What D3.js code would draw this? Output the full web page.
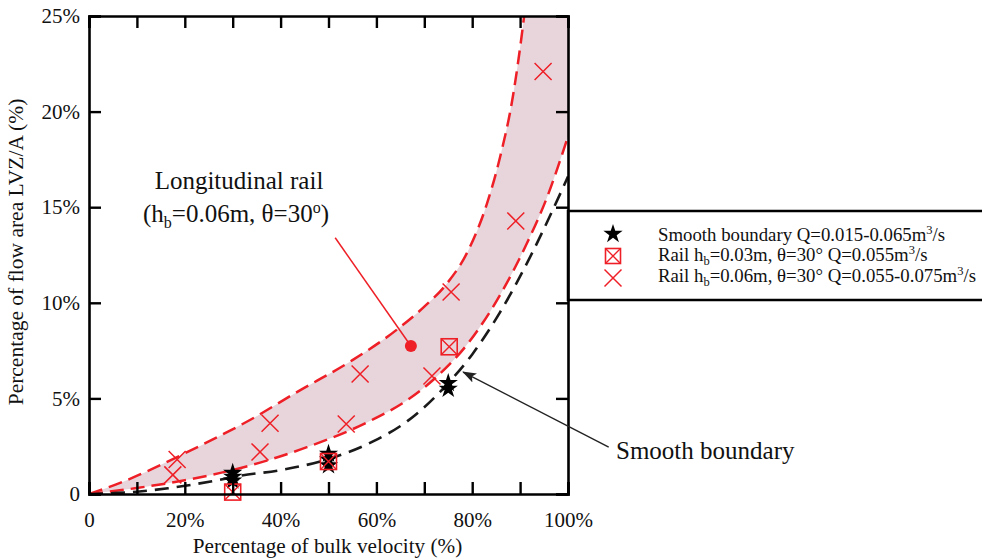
<!DOCTYPE html>
<html>
<head>
<meta charset="utf-8">
<script src="https://cdn.jsdelivr.net/npm/d3@7/dist/d3.min.js"></script>
<style>
  html, body { margin: 0; padding: 0; background: #fff; }
  svg text { font-family: "Liberation Serif", "Times New Roman", serif; fill: #111; }
</style>
</head>
<body>
<svg id="chart" width="982" height="558"></svg>
<script>
// ---------- DATA ----------
const xTicksMinor = [0,10,20,30,40,50,60,70,80,90,100];
const xTickLabels = [0,20,40,60,80,100];
const yTicks = [0,5,10,15,20,25];

// Smooth boundary (stars): [velocity %, area %]
const smoothX = [30, 30, 30, 50, 50, 50, 75, 75];
const smoothY = [0.7, 0.9, 1.1, 1.5, 1.8, 2.1, 5.5, 5.8];

// Rail hb=0.03m (boxed X)
const rail03X = [30, 50, 75.2];
const rail03Y = [0.1, 1.7, 7.7];

// Rail hb=0.06m (X)
const rail06X = [17.5, 18.4, 35.7, 37.8, 53.7, 56.6, 71.6, 75.6, 89.1, 94.8];
const rail06Y = [1.0, 1.8, 2.2, 3.7, 3.66, 6.28, 6.17, 10.56, 14.28, 22.1];

// Fitted curves
const blackCurveX = [0, 10, 16.5, 27, 31.5, 40, 48.9, 59.3, 66.4, 75, 80, 85.8, 92.7, 96.9, 100];
const blackCurveY = [0, 0.12, 0.3, 0.73, 0.95, 1.25, 1.75, 2.75, 3.8, 5.8, 7.3, 9.5, 12.7, 14.9, 16.6];

const lowerRedX = [0, 9.6, 20, 31.5, 45.5, 59.3, 66.4, 72, 79.5, 85.8, 91.4, 95.6, 100];
const lowerRedY = [0, 0.3, 0.72, 1.35, 2.45, 3.9, 4.9, 6.0, 8.0, 10.4, 13.1, 15.5, 18.7];

const upperRedX = [0, 6.5, 13.1, 20, 27, 33.6, 43.2, 55, 64.3, 70, 74.7, 79.1, 83.1, 85.8, 88.5, 90.6, 92, 96, 100];
const upperRedY = [0, 0.58, 1.3, 2.13, 3.0, 3.87, 5.3, 7.0, 8.6, 9.8, 11.0, 12.7, 15.2, 17.6, 20.8, 24.5, 27.5, 38, 55];

// Annotations (data units)
const railNoteDot = [67.2, 7.74];
const railNoteLineStart = [51.4, 13.4];
const smoothArrowTip = [78.1, 6.38];
const smoothArrowStart = [108.5, 2.45];

const legendLabels = [
  [{t:"Smooth boundary Q=0.015-0.065m"},{t:"3",sup:true},{t:"/s"}],
  [{t:"Rail h"},{t:"b",sub:true},{t:"=0.03m, θ=30° Q=0.055m"},{t:"3",sup:true},{t:"/s"}],
  [{t:"Rail h"},{t:"b",sub:true},{t:"=0.06m, θ=30° Q=0.055-0.075m"},{t:"3",sup:true},{t:"/s"}]
];

// ---------- CHART ----------
const RED = "#ee1f26";
const FILL = "#e8d5dc";
const svg = d3.select("#chart");
const L = 89, R = 568, T = 16, B = 494;
const x = d3.scaleLinear().domain([0,100]).range([L,R]);
const y = d3.scaleLinear().domain([0,25]).range([B,T]);

svg.append("defs").append("clipPath").attr("id","plotclip")
  .append("rect").attr("x",L).attr("y",T).attr("width",R-L).attr("height",B-T);

const zip = (xs, ys) => xs.map((v,i)=>[v, ys[i]]);
const line = d3.line().x(d=>x(d[0])).y(d=>y(d[1])).curve(d3.curveMonotoneX);
const area = d3.area().x(d=>x(d[0])).y0(y(0)).y1(d=>y(d[1])).curve(d3.curveMonotoneX);

const plot = svg.append("g").attr("clip-path","url(#plotclip)");

const upper = zip(upperRedX, upperRedY);
const lower = zip(lowerRedX, lowerRedY);
// shaded band: pink under upper curve, then white under lower curve
plot.append("path").attr("d", area(upper)).attr("fill", FILL);
plot.append("path").attr("d", area(lower)).attr("fill", "#fff");

plot.append("path").attr("d", line(upper)).attr("fill","none")
  .attr("stroke",RED).attr("stroke-width",2.5).attr("stroke-dasharray","14,7");
plot.append("path").attr("d", line(lower)).attr("fill","none")
  .attr("stroke",RED).attr("stroke-width",2.5).attr("stroke-dasharray","14,7");
plot.append("path").attr("d", line(zip(blackCurveX, blackCurveY))).attr("fill","none")
  .attr("stroke","#1a1a1a").attr("stroke-width",2.6).attr("stroke-dasharray","14,8");

// markers
const star = d3.symbol().type(d3.symbolStar).size(115);
const markerG = svg.append("g");
function drawStar(g, cx, cy) {
  g.append("path").attr("d", star()).attr("transform",`translate(${cx},${cy})`).attr("fill","#000");
}
function drawBoxX(g, cx, cy, s) {
  const h = s/2;
  g.append("rect").attr("x",cx-h).attr("y",cy-h).attr("width",s).attr("height",s)
    .attr("fill","none").attr("stroke",RED).attr("stroke-width",1.6);
  g.append("path").attr("d",`M${cx-h},${cy-h}L${cx+h},${cy+h}M${cx+h},${cy-h}L${cx-h},${cy+h}`)
    .attr("stroke",RED).attr("stroke-width",1.4);
}
function drawX(g, cx, cy, s) {
  const h = s/2;
  g.append("path").attr("d",`M${cx-h},${cy-h}L${cx+h},${cy+h}M${cx+h},${cy-h}L${cx-h},${cy+h}`)
    .attr("stroke",RED).attr("stroke-width",1.5).attr("fill","none");
}
smoothX.forEach((v,i)=>drawStar(markerG, x(v), y(smoothY[i])));
rail03X.forEach((v,i)=>drawBoxX(markerG, x(v), y(rail03Y[i]), 16));
rail06X.forEach((v,i)=>drawX(markerG, x(v), y(rail06Y[i]), 17));

// axes frame
const axG = svg.append("g");
const tickLen = 12;
axG.append("g").attr("transform",`translate(0,${B})`)
  .call(d3.axisBottom(x).tickValues(xTicksMinor).tickSize(-tickLen).tickFormat(""));
axG.append("g").attr("transform",`translate(0,${T})`)
  .call(d3.axisTop(x).tickValues(xTicksMinor).tickSize(-tickLen).tickFormat(""));
axG.append("g").attr("transform",`translate(${L},0)`)
  .call(d3.axisLeft(y).tickValues(yTicks).tickSize(-tickLen).tickFormat(""));
axG.append("g").attr("transform",`translate(${R},0)`)
  .call(d3.axisRight(y).tickValues(yTicks).tickSize(-tickLen).tickFormat(""));
axG.selectAll("path.domain").attr("stroke","#000").attr("stroke-width",2.6);
axG.selectAll(".tick line").attr("stroke","#000").attr("stroke-width",2.4);

// tick labels
const fmt = v => v === 0 ? "0" : v + "%";
const xl = svg.append("g").attr("transform",`translate(0,${B})`)
  .call(d3.axisBottom(x).tickValues(xTickLabels).tickSize(0).tickPadding(18).tickFormat(fmt));
const yl = svg.append("g").attr("transform",`translate(${L},0)`)
  .call(d3.axisLeft(y).tickValues(yTicks).tickSize(0).tickPadding(9).tickFormat(fmt));
[xl, yl].forEach(g => {
  g.select(".domain").remove();
  g.attr("font-family", null).attr("font-size", null);
  g.selectAll("text").attr("font-size",21).attr("fill","#111");
});

// axis titles
svg.append("text").attr("x", (L+R)/2 - 1).attr("y", 553).attr("text-anchor","middle")
  .attr("font-size",21.2).text("Percentage of bulk velocity (%)");
svg.append("text").attr("transform",`translate(23,${(T+B)/2 - 3}) rotate(-90)`).attr("text-anchor","middle")
  .attr("font-size",21.5).text("Percentage of flow area LVZ/A (%)");

// legend
const lg = svg.append("g");
lg.append("rect").attr("x",R).attr("y",211).attr("width",440).attr("height",89)
  .attr("fill","none").attr("stroke","#000").attr("stroke-width",2.5);
const legMarkY = [234, 256, 278];
const legTextY = [240.5, 261, 281.5];
drawStar(lg, 613, legMarkY[0]);
drawBoxX(lg, 613, legMarkY[1], 15);
drawX(lg, 613, legMarkY[2], 17);
function richText(t, parts, supSize, supShift, subShift) {
  let off = 0;
  parts.forEach(p => {
    const target = p.sup ? -supShift : (p.sub ? subShift : 0);
    const ts = t.append("tspan").text(p.t);
    if (target !== off) ts.attr("dy", target - off);
    if (p.sup || p.sub) ts.attr("font-size", supSize);
    off = target;
  });
}
legendLabels.forEach((parts, i) => {
  const t = lg.append("text").attr("x",658).attr("y",legTextY[i]).attr("font-size",18.8);
  richText(t, parts, 12.5, 7, 4);
});

// annotation: longitudinal rail
const ann = svg.append("g");
ann.append("line").attr("x1",x(railNoteLineStart[0])).attr("y1",y(railNoteLineStart[1]))
  .attr("x2",x(railNoteDot[0])).attr("y2",y(railNoteDot[1])).attr("stroke",RED).attr("stroke-width",1.5);
ann.append("circle").attr("cx",x(railNoteDot[0])).attr("cy",y(railNoteDot[1])).attr("r",6).attr("fill",RED);
ann.append("text").attr("x",239).attr("y",189).attr("text-anchor","middle").attr("font-size",25)
  .text("Longitudinal rail");
const t2 = ann.append("text").attr("x",236).attr("y",222).attr("text-anchor","middle").attr("font-size",25);
richText(t2, [{t:"(h"},{t:"b",sub:true},{t:"=0.06m, θ=30"},{t:"o",sup:true},{t:")"}], 16, 9, 6);

// annotation: smooth boundary arrow
svg.append("defs").append("marker").attr("id","arrow").attr("viewBox","0 0 14 10")
  .attr("refX",13).attr("refY",5).attr("markerWidth",14).attr("markerHeight",10)
  .attr("markerUnits","userSpaceOnUse").attr("orient","auto")
  .append("path").attr("d","M0,0L14,5L0,10L3,5Z").attr("fill","#222");
svg.append("line").attr("x1",x(smoothArrowStart[0])).attr("y1",y(smoothArrowStart[1]))
  .attr("x2",x(smoothArrowTip[0])).attr("y2",y(smoothArrowTip[1]))
  .attr("stroke","#222").attr("stroke-width",1.4).attr("marker-end","url(#arrow)");
svg.append("text").attr("x",616).attr("y",459).attr("font-size",25).text("Smooth boundary");
</script>
</body>
</html>
